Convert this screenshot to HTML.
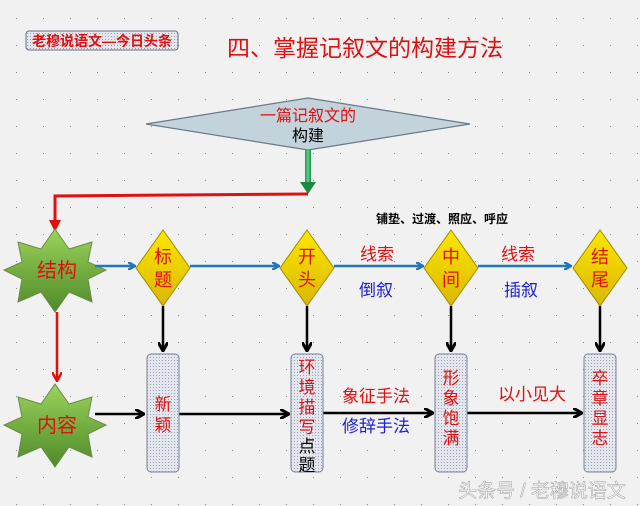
<!DOCTYPE html>
<html><head><meta charset="utf-8"><style>
body{margin:0;background:#f1f1f1}
svg{display:block}
text{font-family:"Liberation Sans","Noto Sans CJK SC",sans-serif}
</style></head><body>
<svg width="640" height="506" viewBox="0 0 640 506" xmlns="http://www.w3.org/2000/svg">
<defs>
<pattern id="dots" width="27" height="27" patternUnits="userSpaceOnUse" x="4" y="6"><rect x="12" y="12" width="1" height="1" fill="#8a8a8a"/></pattern>
<pattern id="fine" width="3" height="3" patternUnits="userSpaceOnUse"><rect width="3" height="3" fill="#e4e6ee"/><rect width="1" height="1" fill="#9aa0b4"/></pattern>
<linearGradient id="star" x1="0" y1="0" x2="0" y2="1"><stop offset="0" stop-color="#9bd35a"/><stop offset="1" stop-color="#4e8a2a"/></linearGradient>
<linearGradient id="yel" x1="0" y1="0" x2="0" y2="1"><stop offset="0" stop-color="#ffe600"/><stop offset="1" stop-color="#d8b800"/></linearGradient>
<linearGradient id="grn" x1="0" y1="0" x2="1" y2="0"><stop offset="0" stop-color="#1a9a4a"/><stop offset="0.5" stop-color="#5fd08a"/><stop offset="1" stop-color="#1a8a40"/></linearGradient>
<marker id="ab" markerWidth="8" markerHeight="8" refX="6" refY="4" orient="auto" markerUnits="userSpaceOnUse"><path d="M0,0 L7,4 L0,8" fill="none" stroke="#2277bb" stroke-width="2.5"/></marker>
<marker id="ak" markerWidth="10" markerHeight="10" refX="8" refY="5" orient="auto" markerUnits="userSpaceOnUse"><path d="M0,0 L9,5 L0,10" fill="none" stroke="#000" stroke-width="3"/></marker>
<marker id="ar" markerWidth="10" markerHeight="10" refX="8" refY="5" orient="auto" markerUnits="userSpaceOnUse"><path d="M0,0 L9,5 L0,10" fill="none" stroke="#e01010" stroke-width="2.5"/></marker>
</defs>
<rect width="640" height="506" fill="#f1f1f1"/>
<rect width="640" height="506" fill="url(#dots)"/>

<rect x="26" y="31" width="152" height="19" rx="3" fill="url(#fine)" stroke="#6a7080" stroke-width="1"/>
<text x="102" y="46" font-size="14" fill="#e01010" text-anchor="middle" font-weight="bold">老穆说语文—今日头条</text>
<text x="365" y="56" font-size="23" fill="#e01010" text-anchor="middle">四、掌握记叙文的构建方法</text>

<polygon points="146,124 308,98 470,124 308,150" fill="#c3d3dc" stroke="#6a7a88" stroke-width="1.2"/>
<text x="308" y="121" font-size="16" fill="#e01010" text-anchor="middle">一篇记叙文的</text>
<text x="308" y="141" font-size="16" fill="#000" text-anchor="middle">构建</text>

<rect x="305" y="150" width="6" height="33" fill="url(#grn)"/>
<polygon points="300,182 316,182 308,194" fill="#1a8a40"/>
<polyline points="308,194 55,196 55,225" fill="none" stroke="#e01010" stroke-width="3"/>
<polygon points="49,220 61,220 55,232" fill="#e01010"/>

<polygon points="55,229 69,249 92,242 88,262 106,270 88,279 92,302 69,292 55,312 41,292 18,302 22,279 4,270 22,262 18,242 41,249" fill="url(#star)" stroke="#6a8a4a"/>
<text x="57" y="277" font-size="20" fill="#e01010" text-anchor="middle">结构</text>
<polygon points="55,384 69,404 92,397 88,417 106,425 88,434 92,457 69,447 55,467 41,447 18,457 22,434 4,425 22,417 18,397 41,404" fill="url(#star)" stroke="#6a8a4a"/>
<text x="57" y="432" font-size="20" fill="#e01010" text-anchor="middle">内容</text>
<line x1="57" y1="312" x2="57" y2="380" stroke="#e01010" stroke-width="2.5" marker-end="url(#ar)"/>

<g stroke="#2277bb" stroke-width="2.5" marker-end="url(#ab)">
<line x1="95" y1="266" x2="134" y2="266"/>
<line x1="190" y1="266" x2="278" y2="266"/>
<line x1="334" y1="266" x2="422" y2="266"/>
<line x1="478" y1="266" x2="570" y2="266"/>
</g>

<g stroke="#a08a00" stroke-width="1" fill="url(#yel)">
<polygon points="163,230 190,268 163,306 136,268"/>
<polygon points="307,230 334,268 307,306 280,268"/>
<polygon points="451,230 478,268 451,306 424,268"/>
<polygon points="600,230 627,268 600,306 573,268"/>
</g>
<g font-size="18" fill="#e01010" text-anchor="middle">
<text x="163" y="263">标</text><text x="163" y="286">题</text>
<text x="307" y="263">开</text><text x="307" y="286">头</text>
<text x="451" y="263">中</text><text x="451" y="286">间</text>
<text x="600" y="263">结</text><text x="600" y="286">尾</text>
<text x="377" y="260" font-size="17">线索</text>
<text x="518" y="260" font-size="17">线索</text>
<text x="376" y="296" font-size="17" fill="#2020d0">倒叙</text>
<text x="521" y="296" font-size="17" fill="#2020d0">插叙</text>
</g>
<text x="442" y="223" font-size="12" fill="#000" text-anchor="middle" font-weight="bold">铺垫、过渡、照应、呼应</text>

<g stroke="#000" stroke-width="2.5" marker-end="url(#ak)">
<line x1="163" y1="306" x2="163" y2="350"/>
<line x1="307" y1="306" x2="307" y2="350"/>
<line x1="451" y1="306" x2="451" y2="350"/>
<line x1="600" y1="306" x2="600" y2="350"/>
<line x1="95" y1="414" x2="143" y2="414"/>
<line x1="179" y1="414" x2="288" y2="414"/>
<line x1="322" y1="413" x2="432" y2="413"/>
<line x1="466" y1="413" x2="581" y2="413"/>
</g>

<g fill="url(#fine)" stroke="#7a8098" stroke-width="1">
<rect x="147" y="354" width="32" height="118" rx="4"/>
<rect x="291" y="354" width="32" height="118" rx="4"/>
<rect x="435" y="354" width="32" height="118" rx="4"/>
<rect x="584" y="354" width="32" height="118" rx="4"/>
</g>
<g font-size="17" text-anchor="middle" fill="#e01010">
<text x="163" y="410">新</text><text x="163" y="431">颖</text>
<text x="307" y="373">环</text><text x="307" y="393">境</text><text x="307" y="413">描</text><text x="307" y="433">写</text>
<text x="307" y="452" fill="#000">点</text><text x="307" y="471" fill="#000">题</text>
<text x="451" y="384">形</text><text x="451" y="404">象</text><text x="451" y="424">饱</text><text x="451" y="444">满</text>
<text x="600" y="384">卒</text><text x="600" y="404">章</text><text x="600" y="424">显</text><text x="600" y="444">志</text>
<text x="376" y="402">象征手法</text>
<text x="376" y="432" fill="#2020d0">修辞手法</text>
<text x="532" y="400">以小见大</text>
</g>
<text x="542" y="497" font-size="19" fill="#ffffff" stroke="#9a9a9a" stroke-width="0.5" text-anchor="middle">头条号 / 老穆说语文</text>
</svg>
</body></html>
